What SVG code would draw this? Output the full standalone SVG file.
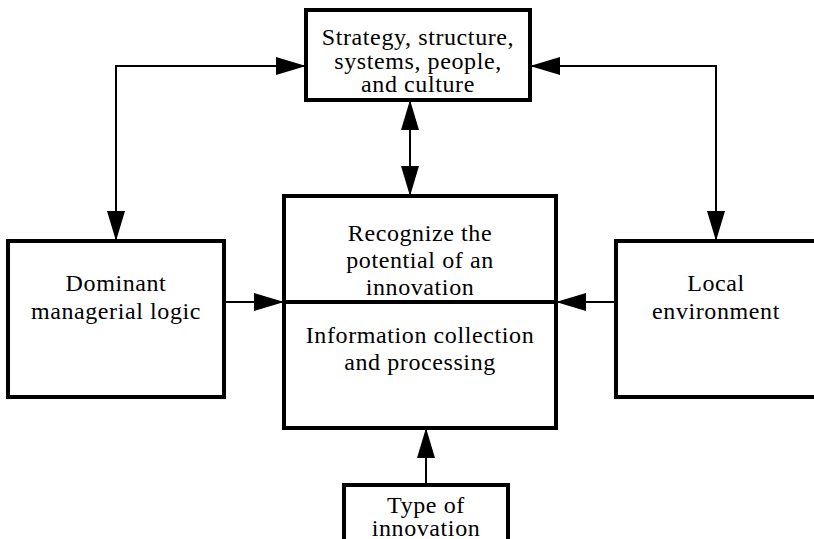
<svg xmlns="http://www.w3.org/2000/svg" width="814" height="539" viewBox="0 0 814 539">
  <style>
    .box { fill: #fff; stroke: #000; stroke-width: 4; }
    .lbl { font-family: "Liberation Serif", "Times New Roman", serif; font-size: 24px; letter-spacing: 0.6px; fill: #000; text-anchor: middle; }
    .wire { fill: none; stroke: #000; stroke-width: 2; }
    .head { fill: #000; }
  </style>
  <defs>
    <marker id="arrow" viewBox="0 0 30 18" refX="30" refY="9" markerWidth="30" markerHeight="18" markerUnits="userSpaceOnUse" orient="auto-start-reverse">
      <path class="head" d="M0,0 L30,9 L0,18 Z"/>
    </marker>
  </defs>
  <rect width="814" height="539" fill="#fff"/>

  <g id="connectors">
    <!-- left loop: Dominant managerial logic <-> Strategy box -->
    <path class="wire" d="M116,241 L116,66 L306,66" marker-start="url(#arrow)" marker-end="url(#arrow)"/>
    <!-- right loop: Local environment <-> Strategy box -->
    <path class="wire" d="M716,241 L716,66 L530,66" marker-start="url(#arrow)" marker-end="url(#arrow)"/>
    <!-- Strategy box <-> centre box -->
    <path class="wire" d="M410,100 L410,196" marker-start="url(#arrow)" marker-end="url(#arrow)"/>
    <!-- side inputs into the centre box -->
    <path class="wire" d="M224,302 L284,302" marker-end="url(#arrow)"/>
    <path class="wire" d="M616,302 L556,302" marker-end="url(#arrow)"/>
    <!-- Type of innovation up into the centre box -->
    <path class="wire" d="M426,485 L426,428" marker-end="url(#arrow)"/>
  </g>

  <g id="strategy">
    <rect class="box" x="306" y="10" width="224" height="90"/>
    <text class="lbl" x="418" y="45">Strategy, structure,</text>
    <text class="lbl" x="418" y="69">systems, people,</text>
    <text class="lbl" x="418" y="92">and culture</text>
  </g>

  <g id="dominant-logic">
    <rect class="box" x="8" y="241" width="216" height="156"/>
    <text class="lbl" x="116" y="291">Dominant</text>
    <text class="lbl" x="116" y="319">managerial  logic</text>
  </g>

  <g id="recognize">
    <rect class="box" x="284" y="196" width="272" height="232"/>
    <line x1="284" y1="302" x2="556" y2="302" stroke="#000" stroke-width="4"/>
    <text class="lbl" x="420" y="241">Recognize the</text>
    <text class="lbl" x="420" y="268">potential of an</text>
    <text class="lbl" x="420" y="295">innovation</text>
    <text class="lbl" x="420" y="343">Information collection</text>
    <text class="lbl" x="420" y="370">and processing</text>
  </g>

  <g id="local-environment">
    <rect class="box" x="616" y="241" width="204" height="156"/>
    <text class="lbl" x="716" y="291">Local</text>
    <text class="lbl" x="716" y="319">environment</text>
  </g>

  <g id="innovation-type">
    <rect class="box" x="344" y="485" width="164" height="64"/>
    <text class="lbl" x="426" y="513">Type of</text>
    <text class="lbl" x="426" y="536">innovation</text>
  </g>
</svg>
